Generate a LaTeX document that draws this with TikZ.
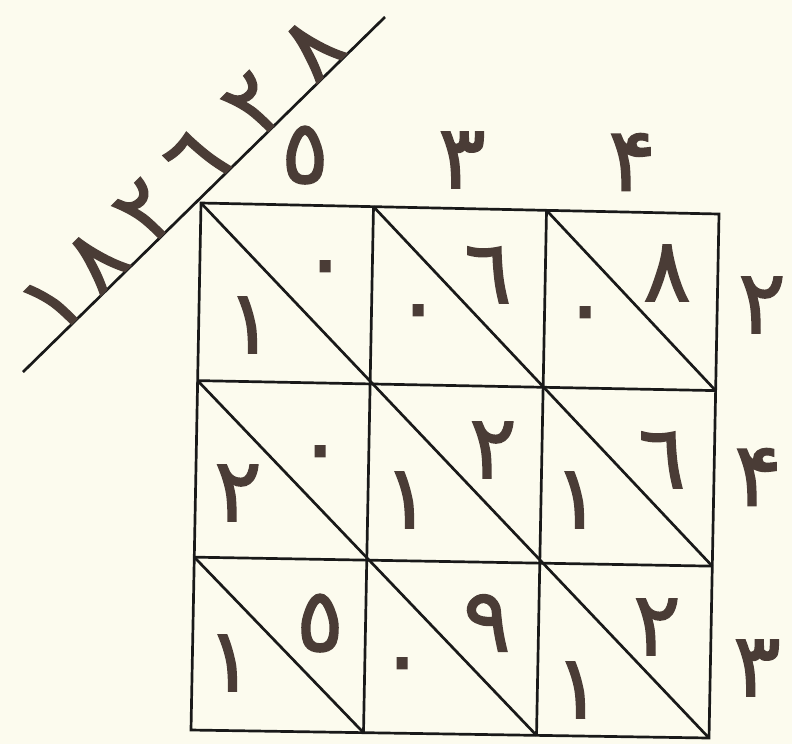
\documentclass[tikz,border=0pt]{standalone}
\usepackage{fontspec}
\newfontfamily\arabicfont[Script=Arabic,FakeBold=1.6]{DejaVu Sans}
\usepackage{tikz}
\usetikzlibrary{calc}
\definecolor{paper}{HTML}{FCFBEE}
\definecolor{ink}{HTML}{4A3C36}

\begin{document}
\begin{tikzpicture}[x=0.03cm,y=-0.03cm,
  rule/.style={line width=2.3pt,black!90},
  digit/.style={text=ink,inner sep=0pt,font=\arabicfont\fontsize{76}{76}\selectfont}]
\fill[paper] (0,0) rectangle (792,744);
\useasboundingbox (0,0) rectangle (792,744);
% grid corners
\coordinate (TL) at (201,203);
\coordinate (TR) at (719,214);
\coordinate (BR) at (709,738);
\coordinate (BL) at (191,730);
\draw[rule] (TL)--(TR)--(BR)--(BL)--cycle;
\foreach \f in {0.333,0.667} \draw[rule] ($(TL)!\f!(TR)$) -- ($(BL)!\f!(BR)$);
\foreach \f in {0.337,0.672} \draw[rule] ($(TL)!\f!(BL)$) -- ($(TR)!\f!(BR)$);
% diagonals
\draw[rule] (TL) -- (BR);
\draw[rule] ($(TL)!0.333!(TR)$) -- ($(TR)!0.672!(BR)$);
\draw[rule] ($(TL)!0.667!(TR)$) -- ($(TR)!0.337!(BR)$);
\draw[rule] ($(TL)!0.337!(BL)$) -- ($(BL)!0.667!(BR)$);
\draw[rule] ($(TL)!0.672!(BL)$) -- ($(BL)!0.333!(BR)$);
% product line
\coordinate (lnA) at (23,372);
\coordinate (lnB) at (385,17);
\draw[rule] (lnA) -- (lnB);
\foreach \d/\t [count=\k] in {١/0.137,٨/0.257,٢/0.396,٦/0.537,٢/0.697,٨/0.854}
  \node[digit,rotate=45,anchor=south] (res\k) at ($(lnA)!\t!(lnB)$) {\d};
% factors
\node[digit] (top1) at (305,155) {٥};
\node[digit] (top2) at (462,160) {٣};
\node[digit] (top3) at (632,162) {۴};
\node[digit] (side1) at (762,305) {٢};
\node[digit] (side2) at (758,477) {۴};
\node[digit] (side3) at (757,668) {٣};
% row 1
\node[digit] (c11u) at (325,276) {٠};
\node[digit] (c11l) at (250,325) {١};
\node[digit] (c12u) at (488,275) {٦};
\node[digit] (c12l) at (418,320) {٠};
\node[digit] (c13u) at (667,273) {٨};
\node[digit] (c13l) at (585,322) {٠};
% row 2
\node[digit] (c21u) at (320,461) {٠};
\node[digit] (c21l) at (238,493) {٢};
\node[digit] (c22u) at (493,450) {٢};
\node[digit] (c22l) at (407,500) {١};
\node[digit] (c23u) at (662,460) {٦};
\node[digit] (c23l) at (577,500) {١};
% row 3
\node[digit] (c31u) at (320,623) {٥};
\node[digit] (c31l) at (230,663) {١};
\node[digit] (c32u) at (487,623) {٩};
\node[digit] (c32l) at (402,673) {٠};
\node[digit] (c33u) at (657,627) {٢};
\node[digit] (c33l) at (578,690) {١};
\end{tikzpicture}
\end{document}
